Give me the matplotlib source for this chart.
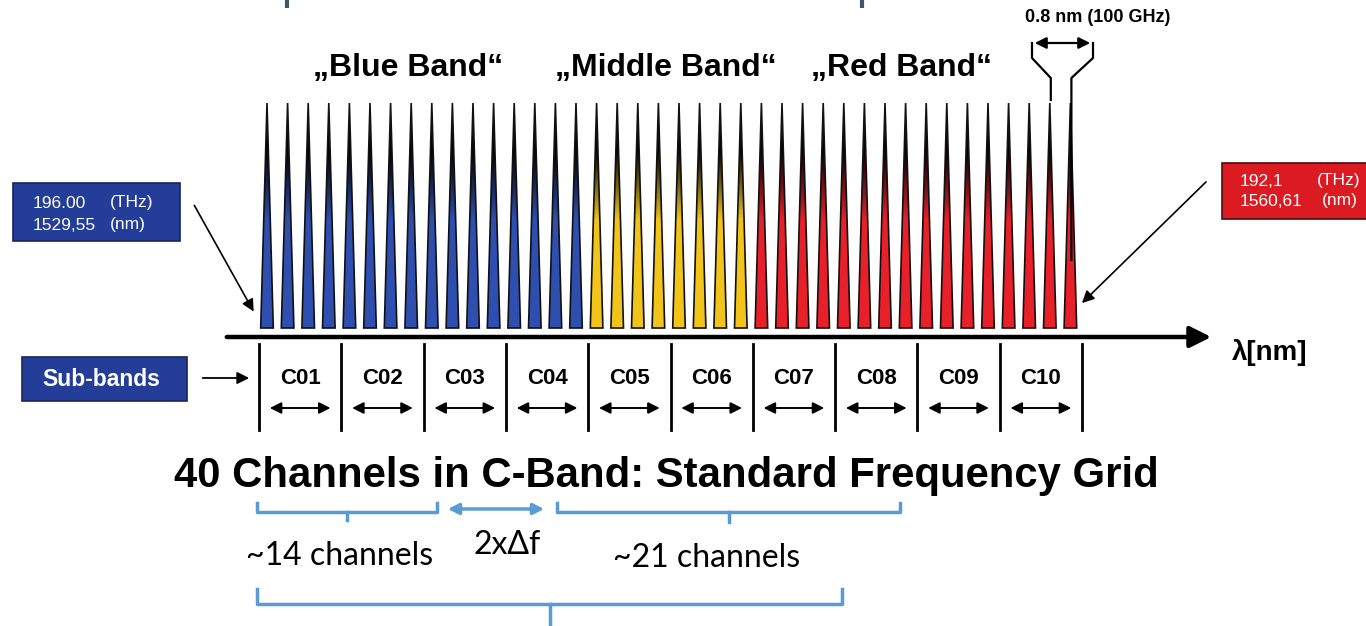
import numpy as np
import matplotlib
matplotlib.use("Agg")
import matplotlib.pyplot as plt
from matplotlib.patches import Polygon, Rectangle, FancyArrowPatch
from matplotlib.colors import to_rgb

# ---------------- data ----------------
band_names = ["Blue Band", "Middle Band", "Red Band"]
band_counts = [16, 8, 16]                      # channels per band (40 total)
band_colors = ["#2f4fb0", "#f2c41a", "#e8202a"]
subband_labels = ["C01", "C02", "C03", "C04", "C05", "C06", "C07", "C08", "C09", "C10"]
channels_per_subband = 4
first_channel = ["196.00", "1529,55"]          # THz, nm
last_channel = ["192,1", "1560,61"]            # THz, nm
spacing_label = "0.8 nm (100 GHz)"
group_labels = ["~14 channels", "2xΔf", "~21 channels"]
title = "40 Channels in C-Band: Standard Frequency Grid"

# ---------------- layout (pixel canvas) ----------------
W, H = 1366, 626
fig = plt.figure(figsize=(W / 100, H / 100), dpi=100)
ax = fig.add_axes([0, 0, 1, 1])
ax.set_xlim(0, W)
ax.set_ylim(H, 0)
ax.axis("off")

X0, DX = 267.0, 20.6          # channel 0 position and channel spacing
BASE, TOP, HW = 328, 103, 6.3
FONT = "Liberation Sans"

n_ch = sum(band_counts)
ch_colors = []
for c, n in zip(band_colors, band_counts):
    ch_colors += [c] * n
cx = X0 + DX * np.arange(n_ch)

# gradient spikes
ys = np.linspace(TOP, BASE, 200)
for x, col in zip(cx, ch_colors):
    rgb = np.array(to_rgb(col))
    t = np.clip((ys - 150) / 70.0, 0, 1)[:, None]
    img = (t * rgb)[:, None, :]
    poly = Polygon([(x - HW, BASE), (x + HW, BASE), (x, TOP)], closed=True,
                   facecolor="none", edgecolor="#111111", lw=1.2, zorder=3)
    ax.add_patch(poly)
    im = ax.imshow(img, extent=(x - HW, x + HW, BASE, TOP), aspect="auto",
                   interpolation="bilinear", zorder=2)
    im.set_clip_path(poly)
ax.set_xlim(0, W)
ax.set_ylim(H, 0)

# wavelength axis
ax.add_patch(FancyArrowPatch((224, 337), (1214, 337), arrowstyle="-|>",
                             mutation_scale=32, lw=3.2, color="black", zorder=4))
ax.text(1232, 353, "λ[nm]", fontsize=20, fontweight="bold", family=FONT,
        ha="left", va="center")

# sub-bands
SB0, SDX = 259.0, 82.3
sb_edges = SB0 + SDX * np.arange(len(subband_labels) + 1)
for xe in sb_edges:
    ax.plot([xe, xe], [344, 430], color="black", lw=2.0, zorder=3)
for i, lab in enumerate(subband_labels):
    xm = (sb_edges[i] + sb_edges[i + 1]) / 2
    ax.text(xm, 378, lab, fontsize=16, fontweight="bold", family=FONT,
            ha="center", va="center")
    ax.add_patch(FancyArrowPatch((sb_edges[i] + 8, 408), (sb_edges[i + 1] - 8, 408),
                                 arrowstyle="<|-|>", mutation_scale=17, lw=1.4,
                                 color="black", zorder=3))

# band titles
band_x = [408, 666, 902]
for name, bx in zip(band_names, band_x):
    ax.text(bx, 68, "\u201e" + name + "\u201c", fontsize=23, fontweight="bold",
            family=FONT, ha="center", va="center")

# boxes
BOX_BLUE = "#243d98"
ax.add_patch(Rectangle((13, 183), 167, 58, facecolor=BOX_BLUE, edgecolor="#1b2454", lw=1.2, zorder=3))
ax.text(33, 203, first_channel[0], color="white", fontsize=12.5, family=FONT, va="center", zorder=4)
ax.text(110, 203, "(THz)", color="white", fontsize=12.5, family=FONT, va="center", zorder=4)
ax.text(33, 225, first_channel[1], color="white", fontsize=12.5, family=FONT, va="center", zorder=4)
ax.text(110, 225, "(nm)", color="white", fontsize=12.5, family=FONT, va="center", zorder=4)
ax.annotate("", xy=(255, 314), xytext=(193, 203),
            arrowprops=dict(arrowstyle="-|>", lw=1.2, color="black", mutation_scale=18))

ax.add_patch(Rectangle((1222, 163), 160, 56, facecolor="#dc1a22", edgecolor="#4a1010", lw=1.2, zorder=3))
ax.text(1240, 181, last_channel[0], color="white", fontsize=12.5, family=FONT, va="center", zorder=4)
ax.text(1317, 181, "(THz)", color="white", fontsize=12.5, family=FONT, va="center", zorder=4)
ax.text(1240, 201, last_channel[1], color="white", fontsize=12.5, family=FONT, va="center", zorder=4)
ax.text(1322, 201, "(nm)", color="white", fontsize=12.5, family=FONT, va="center", zorder=4)
ax.annotate("", xy=(1080, 305), xytext=(1208, 180),
            arrowprops=dict(arrowstyle="-|>", lw=1.2, color="black", mutation_scale=18))

ax.add_patch(Rectangle((22, 357), 165, 44, facecolor=BOX_BLUE, edgecolor="#1b2454", lw=1.2, zorder=3))
ax.text(101, 379, "Sub-bands", color="white", fontsize=16.5, fontweight="bold", family=FONT,
        ha="center", va="center", zorder=4)
ax.annotate("", xy=(252, 378), xytext=(200, 378),
            arrowprops=dict(arrowstyle="-|>", lw=1.3, color="black", mutation_scale=18))

# spacing funnel on last two channels
xa, xb = cx[-2], cx[-1]
ax.add_patch(FancyArrowPatch((1032, 43), (1093, 43), arrowstyle="<|-|>",
                             mutation_scale=17, lw=1.6, color="black", zorder=4))
ax.plot([1032, 1032, xa + 1, xa + 1], [43, 58, 78, 100], color="black", lw=1.6)
ax.plot([1093, 1093, xb + 1, xb + 1], [43, 58, 78, 260], color="black", lw=1.6, zorder=5)
ax.text(1098, 18, spacing_label, fontsize=13, fontweight="bold", family=FONT,
        ha="center", va="center")

# top partial bracket marks
for xm in (287, 862):
    ax.plot([xm, xm], [0, 8], color="#44546a", lw=3, solid_capstyle="butt")

# title
ax.text(666, 476, title, fontsize=30.2, fontweight="bold", family=FONT,
        ha="center", va="center")

# light-blue annotations
LB = "#5b9bd5"
def brace(x1, x2, y, up, down, xc=None):
    xc = (x1 + x2) / 2 if xc is None else xc
    ax.plot([x1, x1, x2, x2], [y - up, y, y, y - up], color=LB, lw=2.5,
            solid_joinstyle="round")
    ax.plot([xc, xc], [y, y + down], color=LB, lw=2.5)

brace(257, 437, 512, 9, 8)
brace(557, 900, 512, 9, 10)
brace(257, 842, 604, 15, 25)
ax.add_patch(FancyArrowPatch((445, 509), (547, 509), arrowstyle="<|-|>",
                             mutation_scale=16, lw=2.5, color=LB))
AFONT = ["Lato", "DejaVu Sans"]
ax.text(340, 556, group_labels[0], fontsize=23, family=AFONT, ha="center", va="center")
ax.text(507, 545, group_labels[1], fontsize=23, family=AFONT, ha="center", va="center")
ax.text(707, 558, group_labels[2], fontsize=23, family=AFONT, ha="center", va="center")

fig.savefig("out.png", dpi=100)
